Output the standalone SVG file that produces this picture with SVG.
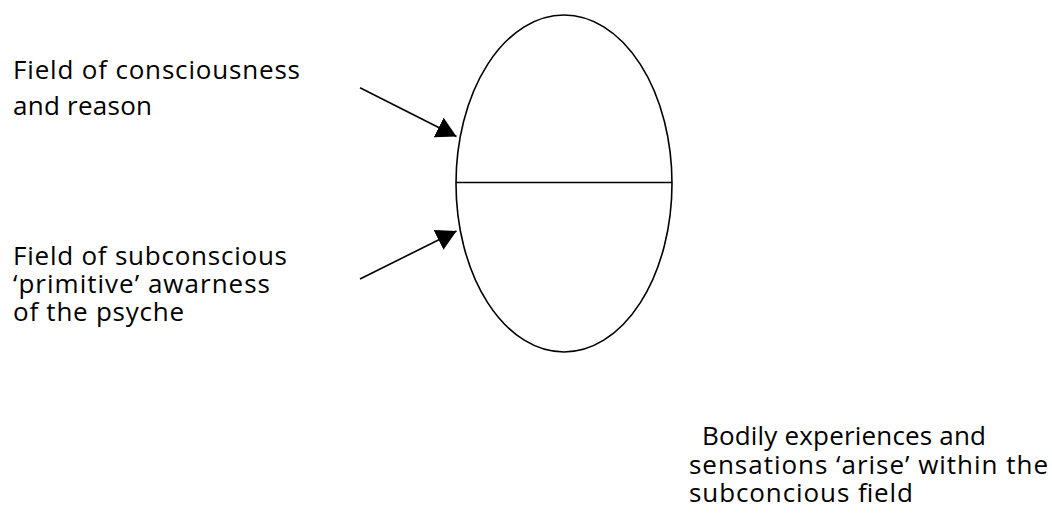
<svg xmlns="http://www.w3.org/2000/svg" width="1052" height="521" viewBox="0 0 1052 521">
<style>
.lbl{font-family:"Open Sans","Noto Sans","Liberation Sans",sans-serif;font-size:26px;fill:#000}
.shape{fill:none;stroke:#000;stroke-width:1.6}
.conn{fill:none;stroke:#000;stroke-width:1.6}
</style>
<defs>
<marker id="arrow" viewBox="0 0 20 22" refX="20" refY="11" markerWidth="20" markerHeight="22" markerUnits="userSpaceOnUse" orient="auto">
<path d="M0,0 L20,11 L0,22 z" fill="#000"/>
</marker>
</defs>
<rect width="1052" height="521" fill="#fff"/>
<g id="psyche">
<ellipse class="shape" cx="564" cy="183.5" rx="108" ry="168.5"/>
<line class="shape" x1="456" y1="182.5" x2="672" y2="182.5"/>
</g>
<g id="label-conscious">
<text class="lbl" x="13" y="78.5" textLength="287" lengthAdjust="spacing">Field of consciousness</text>
<text class="lbl" x="13" y="115" textLength="139" lengthAdjust="spacing">and reason</text>
</g>
<g id="label-subconscious">
<text class="lbl" x="13" y="265" textLength="274" lengthAdjust="spacing">Field of subconscious</text>
<text class="lbl" x="13" y="293" textLength="257" lengthAdjust="spacing">‘primitive’ awarness</text>
<text class="lbl" x="13" y="321" textLength="171" lengthAdjust="spacing">of the psyche</text>
</g>
<g id="label-bodily">
<text class="lbl" x="702" y="445" textLength="284" lengthAdjust="spacing">Bodily experiences and</text>
<text class="lbl" x="689" y="473.5" textLength="359" lengthAdjust="spacing">sensations ‘arise’ within the</text>
<text class="lbl" x="689" y="501.5" textLength="224" lengthAdjust="spacing">subconcious field</text>
</g>
<g id="connectors">
<line class="conn" x1="360" y1="87.7" x2="456.5" y2="136.5" marker-end="url(#arrow)"/>
<line class="conn" x1="360" y1="279" x2="456.5" y2="231" marker-end="url(#arrow)"/>
</g>
</svg>
